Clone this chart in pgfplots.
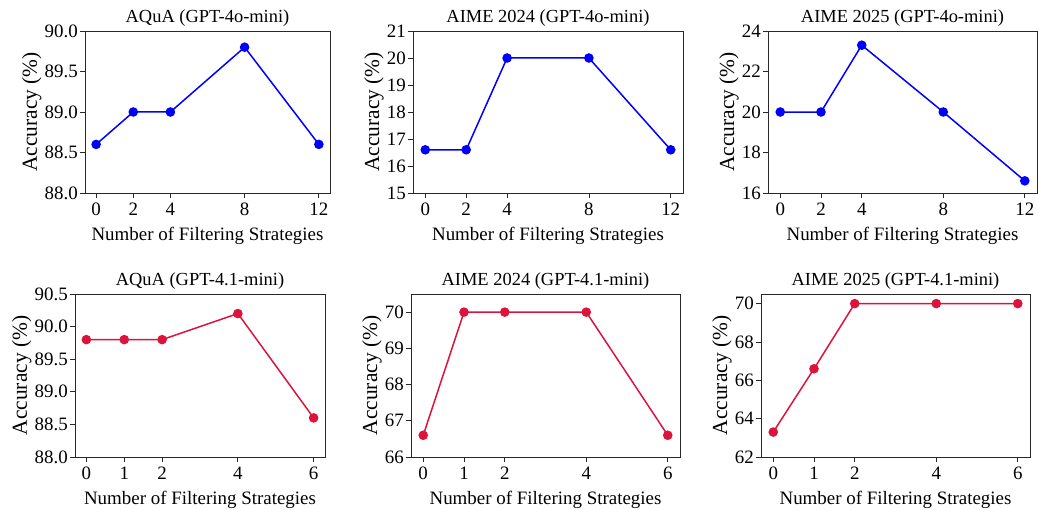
\documentclass[border=0pt]{standalone}
\usepackage{fontspec}
\setmainfont{Liberation Serif}
\newfontfamily\tnr{Liberation Serif}
\usepackage{pgfplots}
\pgfplotsset{compat=1.18}
\definecolor{crimson}{RGB}{220,20,60}
\definecolor{spine}{RGB}{40,40,40}
\pgfplotsset{
  base/.style={
    scale only axis, anchor=south west,
    axis line style={line width=0.8bp, spine},
    tick style={line width=0.8bp, spine},
    tick align=outside, major tick length=5bp,
    xtick pos=left, ytick pos=left,
    tick label style={font=\tnr\fontsize{19}{19}\selectfont},
    /pgf/number format/assume math mode=true,
    xlabel={Number of Filtering Strategies},
    ylabel={Accuracy (\%)},
    xlabel style={font=\tnr\fontsize{19}{19}\selectfont, inner sep=0bp, yshift=-9bp},
    ylabel style={font=\tnr\fontsize{21.5}{21.5}\selectfont, inner sep=1bp},
    title style={font=\tnr\fontsize{18.5}{18.5}\selectfont, inner sep=0bp, yshift=-2bp},
    xticklabel style={inner sep=2bp, yshift=-3bp},
    yticklabel style={inner sep=2bp},
  },
  top/.style={base, xmin=-0.6, xmax=12.6, xtick={0,2,4,8,12}, width=#1, height=162bp},
  bot/.style={base, xmin=-0.3, xmax=6.3, xtick={0,1,2,4,6}, width=#1, height=163bp},
  blueline/.style={color=blue, line width=1.5bp, mark=*, mark size=4bp},
  redline/.style={color=crimson, line width=1.5bp, mark=*, mark size=4bp},
}
\begin{document}
\begin{tikzpicture}
\useasboundingbox (0,0) rectangle (1038bp,510bp);
% ---- top row
\begin{axis}[top=245bp, at={(85bp,317bp)}, title={AQuA (GPT-4o-mini)},
  ymin=88, ymax=90, ytick={88,88.5,89,89.5,90},
  yticklabel style={/pgf/number format/.cd, fixed, fixed zerofill, precision=1}]
\addplot[blueline] coordinates {(0,88.6) (2,89.0) (4,89.0) (8,89.8) (12,88.6)};
\end{axis}
\begin{axis}[top=270bp, at={(413bp,317bp)}, title={AIME 2024 (GPT-4o-mini)},
  ymin=15, ymax=21, ytick={15,16,...,21}]
\addplot[blueline] coordinates {(0,16.6) (2,16.6) (4,20.0) (8,20.0) (12,16.6)};
\end{axis}
\begin{axis}[top=269bp, at={(768bp,317bp)}, title={AIME 2025 (GPT-4o-mini)},
  ymin=16, ymax=24, ytick={16,18,...,24}]
\addplot[blueline] coordinates {(0,20.0) (2,20.0) (4,23.3) (8,20.0) (12,16.6)};
\end{axis}
% ---- bottom row
\begin{axis}[bot=250bp, at={(75bp,53bp)}, title={AQuA (GPT-4.1-mini)},
  ymin=88, ymax=90.5, ytick={88,88.5,...,90.5},
  yticklabel style={/pgf/number format/.cd, fixed, fixed zerofill, precision=1}]
\addplot[redline] coordinates {(0,89.8) (1,89.8) (2,89.8) (4,90.2) (6,88.6)};
\end{axis}
\begin{axis}[bot=269bp, at={(411bp,53bp)}, title={AIME 2024 (GPT-4.1-mini)},
  ymin=66, ymax=70.5, ytick={66,67,...,70}]
\addplot[redline] coordinates {(0,66.6) (1,70.0) (2,70.0) (4,70.0) (6,66.6)};
\end{axis}
\begin{axis}[bot=269bp, at={(761bp,53bp)}, title={AIME 2025 (GPT-4.1-mini)},
  ymin=62, ymax=70.5, ytick={62,64,...,70}]
\addplot[redline] coordinates {(0,63.3) (1,66.6) (2,70.0) (4,70.0) (6,70.0)};
\end{axis}
\end{tikzpicture}
\end{document}
